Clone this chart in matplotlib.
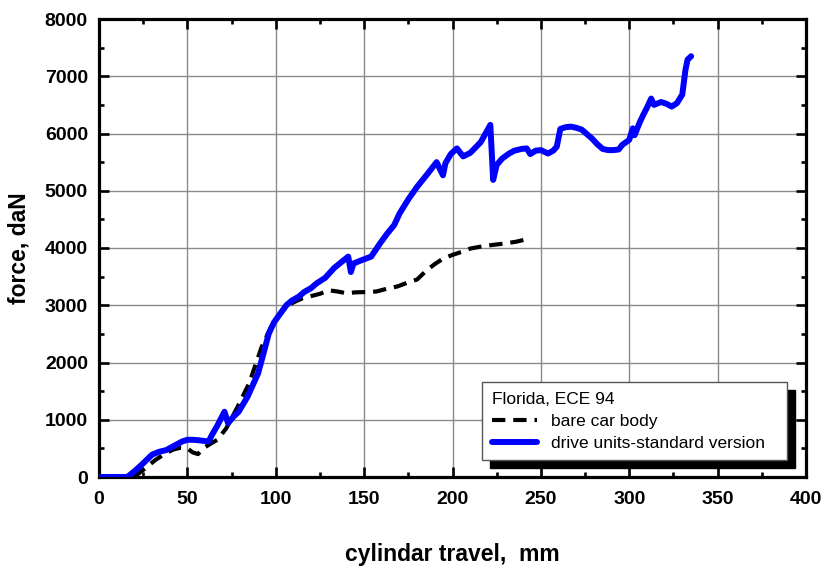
import matplotlib
matplotlib.use("Agg")
import matplotlib.pyplot as plt
from matplotlib.ticker import MultipleLocator

plt.rcParams['font.family'] = ['Liberation Sans', 'DejaVu Sans']

# Data
blue_x = [0, 10, 16, 20, 24, 28, 30, 34, 38, 41, 44, 47, 50, 53, 57, 62, 64, 67, 71, 73,
          76, 79, 84, 90, 93, 96, 99, 102, 106, 109, 113, 116, 120, 123, 128, 133, 137,
          141, 142.5, 144, 148, 154, 159, 163, 167, 170, 175, 180, 186, 191, 194.6, 196,
          199, 202.5, 206, 210, 216, 221.4, 223, 225, 228, 232, 235, 239, 242, 244, 247,
          250, 254, 257, 259, 261, 264, 267, 270, 273, 276, 279, 282, 285, 288, 291, 294,
          296, 300, 302, 303, 306, 308, 310, 312.4, 314, 318, 321, 324, 327, 330, 331.8,
          333, 335]
blue_y = [0, 0, 0, 100, 210, 330, 390, 440, 470, 520, 570, 620, 650, 650, 640, 620, 740,
          900, 1140, 940, 1050, 1140, 1400, 1810, 2150, 2500, 2700, 2830, 3000, 3080, 3150,
          3230, 3300, 3380, 3480, 3650, 3750, 3850, 3580, 3730, 3780, 3850, 4080, 4250,
          4400, 4600, 4850, 5070, 5300, 5500, 5270, 5480, 5640, 5740, 5600, 5660, 5850,
          6150, 5190, 5450, 5560, 5650, 5700, 5730, 5740, 5640, 5700, 5710, 5650, 5700,
          5770, 6080, 6110, 6120, 6100, 6070, 5990, 5910, 5810, 5730, 5710, 5710, 5720,
          5800, 5890, 6090, 5970, 6200, 6330, 6450, 6610, 6500, 6550, 6520, 6470, 6530,
          6680, 7110, 7290, 7350]

black_x = [20, 24, 28, 32, 37, 42, 46, 50, 53, 56, 59, 63, 67, 72, 78, 85, 92, 97, 101,
           106, 110, 115, 120, 125, 130, 135, 140, 145, 150, 157, 163, 169, 175, 180, 185,
           190, 195, 200, 205, 210, 217, 223, 230, 236, 243]
black_y = [0, 100, 200, 300, 400, 480, 510, 500, 430, 400, 500, 580, 650, 850, 1200, 1640,
           2270, 2600, 2800, 2970, 3050, 3120, 3160, 3200, 3260, 3240, 3210, 3225, 3230,
           3240, 3290, 3330, 3400, 3450, 3600, 3720, 3820, 3880, 3930, 3990, 4030, 4055,
           4080, 4110, 4160]

x_ticks = [0, 50, 100, 150, 200, 250, 300, 350, 400]
y_ticks = [0, 1000, 2000, 3000, 4000, 5000, 6000, 7000, 8000]

legend_title = "Florida, ECE 94"
label_black = "bare car body"
label_blue = "drive units-standard version"

fig = plt.figure(figsize=(8.26, 5.70), dpi=100)
ax = fig.add_axes([99/826, 1-477/570, (806-99)/826, (477-19)/570])

ax.plot(black_x, black_y, color='black', lw=3.0, linestyle=(0, (3.2, 1.9)),
        label=label_black, zorder=3)
ax.plot(blue_x, blue_y, color='#0000FF', lw=4.3, solid_joinstyle='round',
        solid_capstyle='round', label=label_blue, zorder=4)

ax.set_xlim(0, 400)
ax.set_ylim(0, 8000)
ax.set_xticks(x_ticks)
ax.set_yticks(y_ticks)
ax.xaxis.set_minor_locator(MultipleLocator(25))
ax.yaxis.set_minor_locator(MultipleLocator(500))
ax.grid(True, which='major', color='#8a8a8a', lw=1.0, zorder=0)

for s in ax.spines.values():
    s.set_linewidth(2.3)
ax.tick_params(which='major', direction='in', length=7, width=1.9, top=True, right=True,
               labelsize=14, pad=8)
ax.tick_params(which='minor', direction='in', length=3.8, width=1.9, top=True, right=True)
ax.tick_params(axis='x', which='major', pad=10)
for lab in ax.get_xticklabels() + ax.get_yticklabels():
    lab.set_fontweight('bold')

fig.text(452/826, 1-555/570, "cylindar travel,  mm", ha='center', va='center',
         fontsize=16.5, fontweight='bold')
fig.text(19/826, 1-248/570, "force, daN", ha='center', va='center', rotation=90,
         fontsize=16.5, fontweight='bold')

leg = ax.legend(loc='upper left', bbox_to_anchor=(383/707, 95/458, 305/707, 0.0),
                mode='expand', borderaxespad=0, title=legend_title,
                alignment='left', fontsize=12.5, title_fontsize=12.5,
                fancybox=False, framealpha=1, edgecolor='#555555',
                handlelength=2.6, handletextpad=0.8, labelspacing=0.4,
                borderpad=0.55,
                shadow={'ox': 5.8, 'oy': -5.8, 'facecolor': 'black',
                        'edgecolor': 'black', 'alpha': 1})
leg.get_frame().set_linewidth(1.0)
leg.set_zorder(10)

fig.savefig("out.png", dpi=100)
